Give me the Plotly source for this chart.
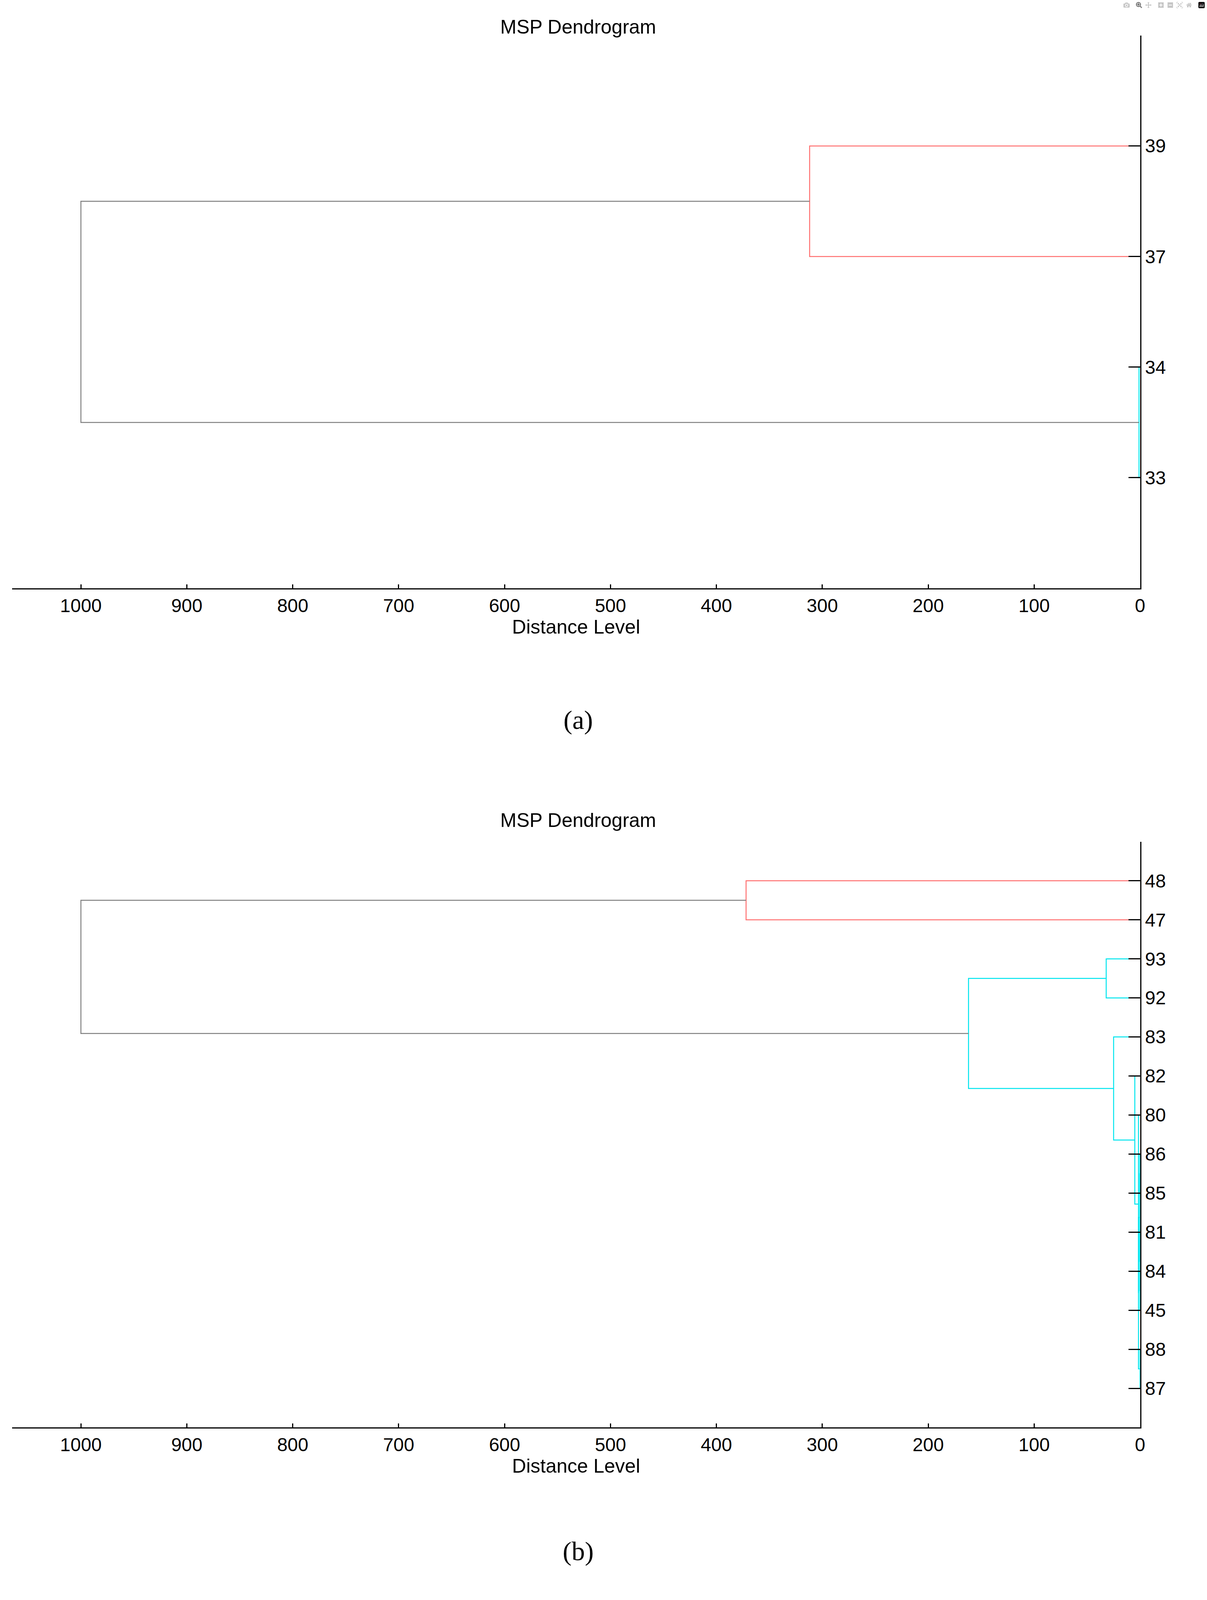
import plotly.graph_objects as go

W, H = 3091, 4877
# Panel (a)
leaves_a = ["33", "34", "37", "39"]            # leaf labels bottom->top (positions 1..n)
# links: (upper child pos, lower child pos, merge height, upper child height, lower child height, colour)
links_a = [
    (2, 1, 1, 0, 0, "#00e5ee"),
    (4, 3, 312, 0, 0, "#ff7070"),
    (3.5, 1.5, 1000, 312, 1, "#808080"),
]
# Panel (b)
leaves_b = ["87", "88", "45", "84", "81", "85", "86", "80", "82", "83", "92", "93", "47", "48"]
links_b = [
    (14, 13, 372, 0, 0, "#ff7070"),
    (12, 11, 32, 0, 0, "#00e5ee"),
    (2, 1, 0.1, 0, 0, "#00e5ee"),
    (4, 3, 0.2, 0, 0, "#00e5ee"),
    (5, 3.5, 0.3, 0, 0.2, "#00e5ee"),
    (7, 6, 0.3, 0, 0, "#00e5ee"),
    (6.5, 4.25, 0.4, 0.3, 0.3, "#00e5ee"),
    (5.375, 1.5, 1.5, 0.4, 0.1, "#00e5ee"),
    (8, 3.44, 1.5, 0, 1.5, "#00e5ee"),
    (9, 5.72, 5, 0, 1.5, "#00e5ee"),
    (10, 7.36, 25, 0, 5, "#00e5ee"),
    (11.5, 8.68, 162, 32, 25, "#00e5ee"),
    (13.5, 10.09, 1000, 372, 162, "#808080"),
]
x_ticks = [1000, 900, 800, 700, 600, 500, 400, 300, 200, 100, 0]

FONT = "Liberation Sans, Arial, sans-serif"
fig = go.Figure()

def add_links(links, xa, ya):
    for (p1, p2, h, c1, c2, col) in links:
        fig.add_trace(go.Scatter(
            x=[c1, h, h, c2], y=[p1, p1, p2, p2], mode="lines",
            line=dict(color=col, width=2.5), xaxis=xa, yaxis=ya,
            showlegend=False, hoverinfo="skip"))

add_links(links_a, "x", "y")
add_links(links_b, "x2", "y2")

def xaxis_cfg(dom, anchor):
    return dict(domain=dom, anchor=anchor, range=[1065, 0], tickvals=x_ticks,
                ticktext=[str(t) for t in x_ticks], ticks="inside", ticklen=10,
                tickwidth=3, tickcolor="black", showline=True, linecolor="black",
                linewidth=3, showgrid=False, zeroline=False,
                tickfont=dict(family=FONT, size=48, color="black"),
                title=dict(text="Distance Level", font=dict(family=FONT, size=50, color="black"),
                           standoff=5))

def yaxis_cfg(dom, anchor, leaves):
    n = len(leaves)
    return dict(domain=dom, anchor=anchor, side="right", range=[0, n + 1],
                tickvals=list(range(1, n + 1)), ticktext=leaves, ticks="inside",
                ticklen=30, tickwidth=3, tickcolor="black", showline=True,
                linecolor="black", linewidth=3, showgrid=False, zeroline=False,
                tickfont=dict(family=FONT, size=48, color="black"))

xd = [31 / W, 2932 / W]
fig.update_layout(
    autosize=True, margin=dict(l=0, r=0, t=0, b=0),
    plot_bgcolor="white", paper_bgcolor="white",
    xaxis=xaxis_cfg(xd, "y"),
    yaxis=yaxis_cfg([0.6323, 0.9779], "x", leaves_a),
    xaxis2=xaxis_cfg(xd, "y2"),
    yaxis2=yaxis_cfg([0.1079, 0.4739], "x2", leaves_b),
)
for txt, y, fam, sz in [("MSP Dendrogram", 1 - 46 / H, FONT, 50),
                        ("(a)", 1 - 2195 / H, "Liberation Serif, serif", 68),
                        ("MSP Dendrogram", 1 - 2500 / H, FONT, 50),
                        ("(b)", 1 - 4776 / H, "Liberation Serif, serif", 68)]:
    fig.add_annotation(text=txt, x=1487 / W, y=y, xref="paper", yref="paper",
                       showarrow=False, font=dict(family=fam, size=sz, color="black"))

fig.write_html("out.html", default_width="100vw", default_height="100vh")
with open("out.html", encoding="utf-8") as f:
    html = f.read()
html = html.replace("<head>", "<head><style>html,body{margin:0;padding:0;overflow:hidden;}</style>", 1)
with open("out.html", "w", encoding="utf-8") as f:
    f.write(html)
